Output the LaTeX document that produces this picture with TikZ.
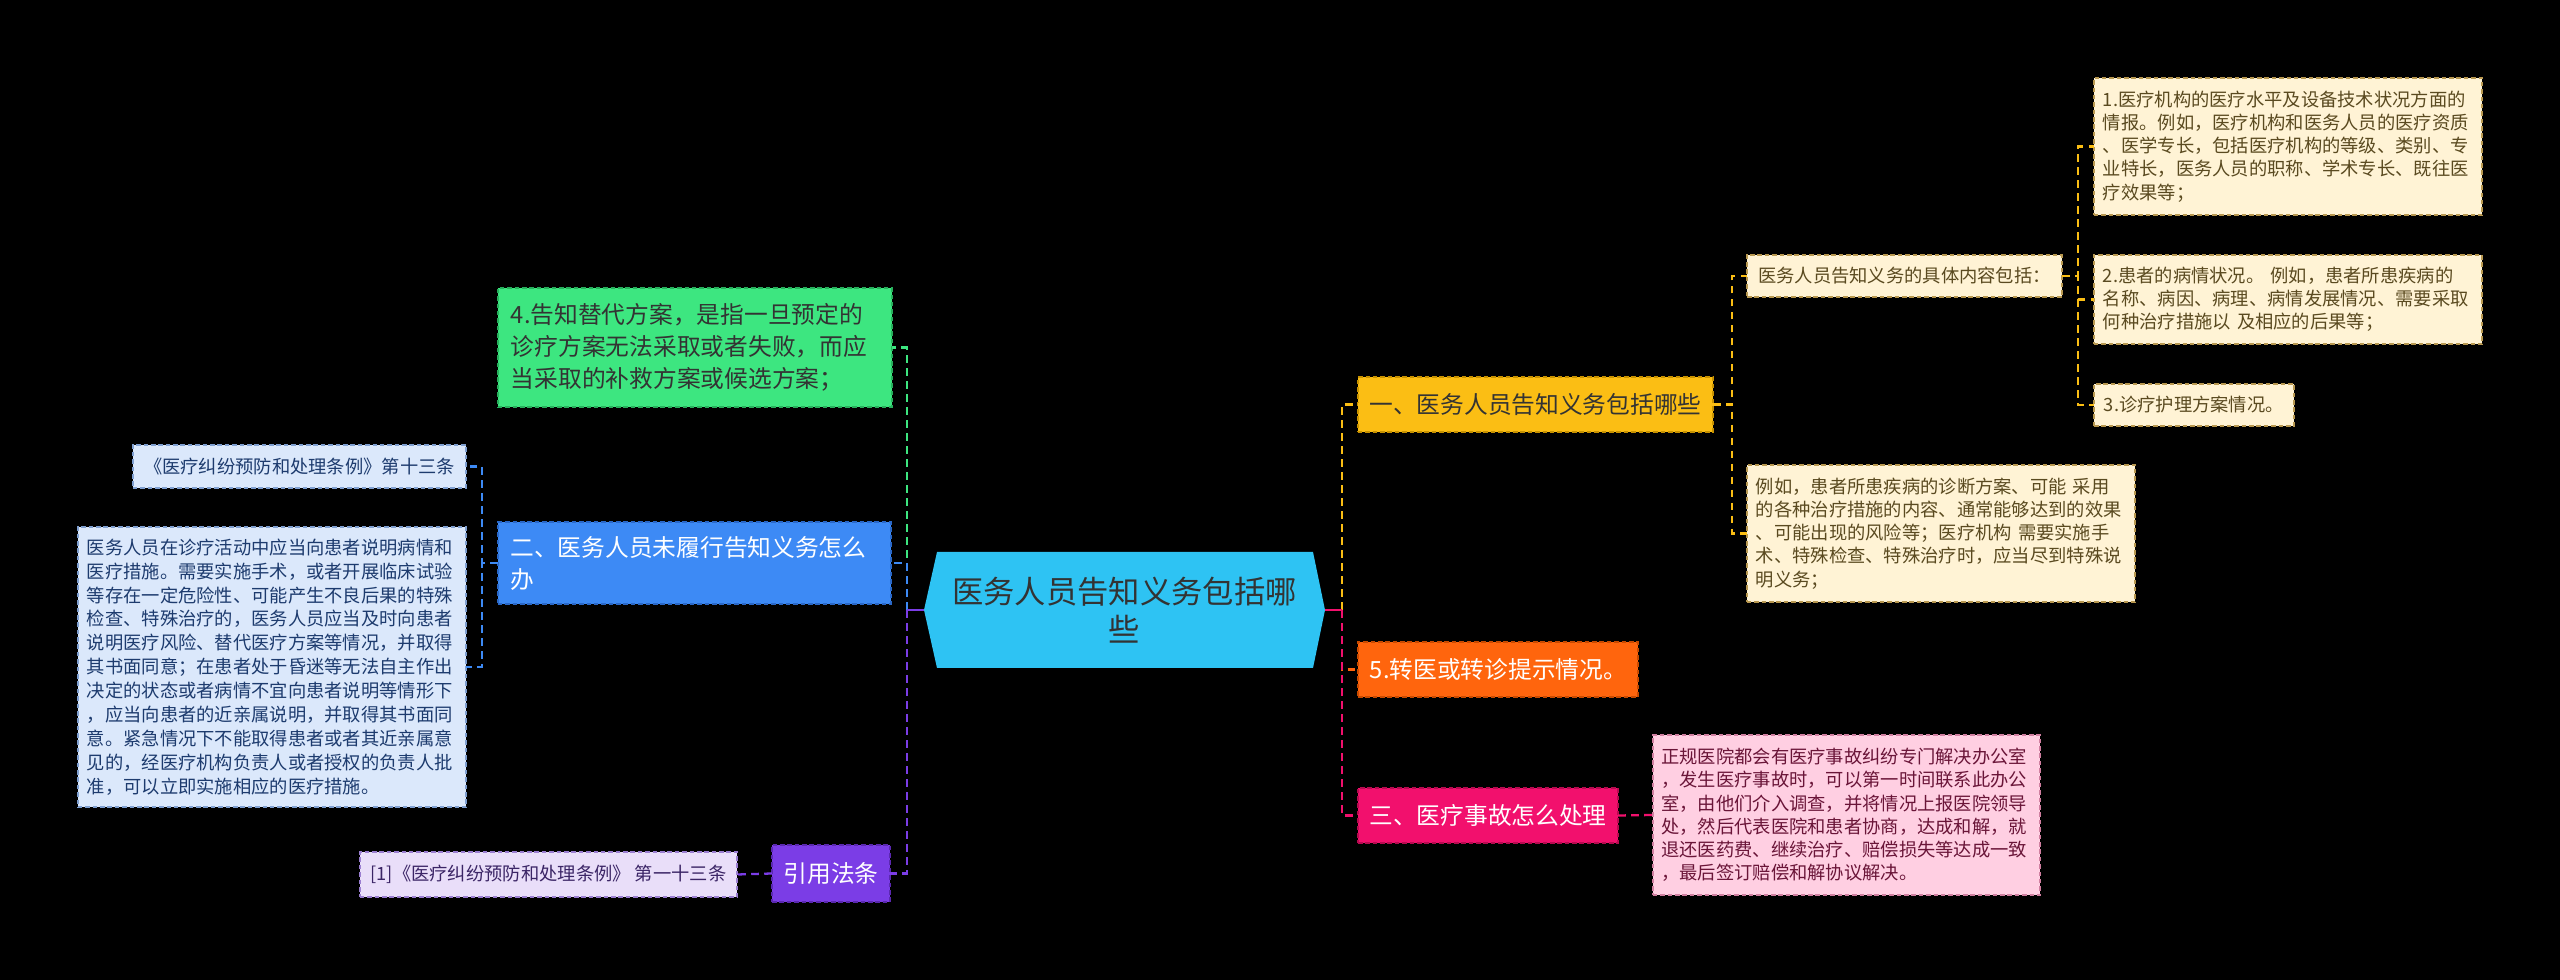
\documentclass[tikz,border=0pt]{standalone}
\usepackage{fontspec}
\setmainfont{Noto Sans CJK SC}
\definecolor{cfill}{HTML}{2EC3F3}
\definecolor{ctxt}{HTML}{333333}
\definecolor{gfill}{HTML}{3DE680}
\definecolor{gbd}{HTML}{27B05C}
\definecolor{bfill}{HTML}{3D8AF5}
\definecolor{bbd}{HTML}{2A68C8}
\definecolor{pfill}{HTML}{7B3DE6}
\definecolor{pbd}{HTML}{5A28B0}
\definecolor{yfill}{HTML}{FBBE14}
\definecolor{ybd}{HTML}{C89200}
\definecolor{ofill}{HTML}{FF650D}
\definecolor{obd}{HTML}{C84A00}
\definecolor{kfill}{HTML}{F2106D}
\definecolor{kbd}{HTML}{B80A50}
\definecolor{crfill}{HTML}{FFF3D5}
\definecolor{crbd}{HTML}{B89850}
\definecolor{crtxt}{HTML}{5A4A20}
\definecolor{lbfill}{HTML}{DBE8FB}
\definecolor{lbbd}{HTML}{7F9FD0}
\definecolor{lbtxt}{HTML}{1D3B6E}
\definecolor{lpfill}{HTML}{E9DEF9}
\definecolor{lpbd}{HTML}{9A7ED0}
\definecolor{lptxt}{HTML}{3B2566}
\definecolor{lkfill}{HTML}{FFCFE2}
\definecolor{lkbd}{HTML}{D07FA0}
\definecolor{lktxt}{HTML}{6A1538}
\tikzset{
  bx/.style={draw=#1, dash pattern=on 1.3pt off 0.8pt, line width=0.4pt, inner sep=0pt, outer sep=0pt},
  ln/.style={draw=#1, line width=0.65pt, dash pattern=on 2.2pt off 1.5pt},
  stub/.style={draw=#1, line width=0.65pt},
  mainf/.style={font=\fontsize{6.75pt}{9.1pt}\selectfont},
  smallf/.style={font=\fontsize{5.2pt}{6.6pt}\selectfont},
}
\begin{document}
\begin{tikzpicture}[x=0.01cm,y=-0.01cm]
\fill[black] (0,0) rectangle (2560,980);
\useasboundingbox (0,0) rectangle (2560,980);
% center hexagon
\fill[cfill] (924,610) -- (937,552) -- (1313,552) -- (1325,610) -- (1313,668) -- (937,668) -- cycle;
\node[minimum width=4.01cm, minimum height=1.16cm, inner sep=0pt, outer sep=0pt, align=center, text=ctxt, font=\fontsize{8.9pt}{10.8pt}\selectfont] (c) at (1124.5,610) {医务人员告知义务包括哪\\些};

% left branches
\node[bx=gbd, fill=gfill, text=ctxt, mainf, minimum width=3.94cm, minimum height=1.19cm, text width=3.68cm, align=left] (g) at (695,347.5)
{4.告知替代方案，是指一旦预定的\\诊疗方案无法采取或者失败，而应\\当采取的补救方案或候选方案；};
\node[bx=bbd, fill=bfill, text=white, mainf, minimum width=3.93cm, minimum height=0.82cm, text width=3.68cm, align=left] (b) at (694.5,563)
{二、医务人员未履行告知义务怎么\\办};
\node[bx=pbd, fill=pfill, text=white, mainf, minimum width=1.18cm, minimum height=0.57cm, align=center] (p) at (831,873.5) {引用法条};

\node[bx=lbbd, fill=lbfill, text=lbtxt, smallf, minimum width=3.33cm, minimum height=0.43cm, align=center] (b1) at (299.5,466.5) {《医疗纠纷预防和处理条例》第十三条};
\node[bx=lbbd, fill=lbfill, text=lbtxt, font=\fontsize{5.2pt}{6.8pt}\selectfont, minimum width=3.88cm, minimum height=2.80cm, text width=3.70cm, align=left] (b2) at (272,667)
{医务人员在诊疗活动中应当向患者说明病情和\\医疗措施。需要实施手术，或者开展临床试验\\等存在一定危险性、可能产生不良后果的特殊\\检查、特殊治疗的，医务人员应当及时向患者\\说明医疗风险、替代医疗方案等情况，并取得\\其书面同意；在患者处于昏迷等无法自主作出\\决定的状态或者病情不宜向患者说明等情形下\\，应当向患者的近亲属说明，并取得其书面同\\意。紧急情况下不能取得患者或者其近亲属意\\见的，经医疗机构负责人或者授权的负责人批\\准，可以立即实施相应的医疗措施。};
\node[bx=lpbd, fill=lpfill, text=lptxt, smallf, minimum width=3.77cm, minimum height=0.45cm, align=center] (p1) at (548.5,874.5) {[1]《医疗纠纷预防和处理条例》 第一十三条};

% right branches
\node[bx=ybd, fill=yfill, text=ctxt, mainf, minimum width=3.55cm, minimum height=0.55cm, align=center] (y) at (1535.5,404.5) {一、医务人员告知义务包括哪些};
\node[bx=obd, fill=ofill, text=white, mainf, minimum width=2.80cm, minimum height=0.55cm, align=left, text width=2.56cm] (o) at (1498,669.5) {5.转医或转诊提示情况。};
\node[bx=kbd, fill=kfill, text=white, mainf, minimum width=2.60cm, minimum height=0.55cm, align=center] (k) at (1488,815.5) {三、医疗事故怎么处理};

\node[bx=crbd, fill=crfill, text=crtxt, smallf, minimum width=3.15cm, minimum height=0.42cm, align=center] (y1) at (1904.5,276) {医务人员告知义务的具体内容包括：};
\node[bx=crbd, fill=crfill, text=crtxt, smallf, minimum width=3.88cm, minimum height=1.37cm, text width=3.70cm, align=left] (y11) at (2288,146.5)
{1.医疗机构的医疗水平及设备技术状况方面的\\情报。例如，医疗机构和医务人员的医疗资质\\、医学专长，包括医疗机构的等级、类别、专\\业特长，医务人员的职称、学术专长、既往医\\疗效果等；};
\node[bx=crbd, fill=crfill, text=crtxt, smallf, minimum width=3.88cm, minimum height=0.89cm, text width=3.70cm, align=left] (y12) at (2288,299.5)
{2.患者的病情状况。 例如，患者所患疾病的\\名称、病因、病理、病情发展情况、需要采取\\何种治疗措施以 及相应的后果等；};
\node[bx=crbd, fill=crfill, text=crtxt, smallf, minimum width=2.00cm, minimum height=0.42cm, text width=1.80cm, align=left] (y13) at (2194,405) {3.诊疗护理方案情况。};
\node[bx=crbd, fill=crfill, text=crtxt, smallf, minimum width=3.88cm, minimum height=1.37cm, text width=3.70cm, align=left] (y2) at (1941,533.5)
{例如，患者所患疾病的诊断方案、可能 采用\\的各种治疗措施的内容、通常能够达到的效果\\、可能出现的风险等；医疗机构 需要实施手\\术、特殊检查、特殊治疗时，应当尽到特殊说\\明义务；};
\node[bx=lkbd, fill=lkfill, text=lktxt, smallf, minimum width=3.87cm, minimum height=1.60cm, text width=3.70cm, align=left] (k1) at (1846.5,815)
{正规医院都会有医疗事故纠纷专门解决办公室\\，发生医疗事故时，可以第一时间联系此办公\\室，由他们介入调查，并将情况上报医院领导\\处，然后代表医院和患者协商，达成和解，就\\退还医药费、继续治疗、赔偿损失等达成一致\\，最后签订赔偿和解协议解决。};

% connectors from center
\draw[ln=gfill] (c.west) ++(-17,0) |- (g.east);
\draw[ln=bfill] (c.west) ++(-17,0) |- (b.east);
\draw[ln=pfill] (c.west) ++(-17,0) |- (p.east);
\draw[stub=pfill] (c.west) -- ++(-17,0);
\draw[ln=yfill] (c.east) ++(17,0) |- (y.west);
\draw[ln=ofill] (c.east) ++(17,0) |- (o.west);
\draw[ln=kfill] (c.east) ++(17,0) |- (k.west);
\draw[stub=kfill] (c.east) -- ++(17,0);
% children
\draw[ln=bfill] (b.west) -- ++(-16,0) |- (b1.east);
\draw[ln=bfill] (b.west) -- ++(-16,0) |- (b2.east);
\draw[ln=pfill] (p.west) -- (p1.east);
\draw[ln=kfill] (k.east) -- (k1.west);
\draw[ln=yfill] (y.east) -- ++(19,0) |- (y1.west);
\draw[ln=yfill] (y.east) -- ++(19,0) |- (y2.west);
\draw[ln=yfill] (y1.east) -- ++(16,0) |- (y11.west);
\draw[ln=yfill] (y1.east) -- ++(16,0) |- (y12.west);
\draw[ln=yfill] (y1.east) -- ++(16,0) |- (y13.west);
\end{tikzpicture}
\end{document}
